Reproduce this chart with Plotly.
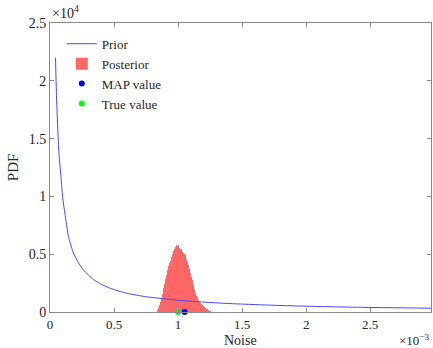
import numpy as np
import plotly.graph_objects as go

# ---- data (x in units of the Noise axis, pdf values) ----
prior_x = [0.043e-3, 0.05e-3, 0.06e-3, 0.07e-3, 0.088e-3, 0.1e-3, 0.117e-3, 0.143e-3,
           0.18e-3, 0.22e-3, 0.26e-3, 0.3e-3, 0.34e-3, 0.4e-3, 0.47e-3, 0.6e-3,
           0.75e-3, 0.86e-3, 1.0e-3, 1.17e-3, 1.4e-3, 1.7e-3, 2.0e-3, 2.4e-3, 2.975e-3]
prior_pdf = [22000, 19000, 16000, 13700, 11400, 9800, 8500, 6600,
             5200, 4300, 3650, 3200, 2800, 2400, 2050, 1620,
             1320, 1180, 1020, 880, 730, 600, 500, 410, 330]

posterior_first_center = 0.8385e-3
posterior_bin_width = 7.8e-6
posterior_pdf = [170, 350, 610, 870, 1210, 1560, 2080, 2420, 2860, 3200,
                 3630, 3980, 4240, 4410, 4760, 5020, 5280, 5450, 5620, 5800,
                 5710, 5800, 5540, 5360, 5450, 5190, 5100, 5020, 4930, 4590,
                 4330, 4070, 3720, 3370, 3030, 2770, 2340, 1990, 1640, 1380,
                 1210, 1040, 870, 780, 690, 610, 520, 430, 350, 260,
                 260, 170, 90, 90]
posterior_x = [posterior_first_center + i * posterior_bin_width for i in range(len(posterior_pdf))]

map_value = [1.051e-3]
true_value = [1.0e-3]

x_tickvals = [0, 0.5e-3, 1.0e-3, 1.5e-3, 2.0e-3, 2.5e-3]
x_ticktext = ["0", "0.5", "1", "1.5", "2", "2.5"]
y_tickvals = [0, 5000, 10000, 15000, 20000, 25000]
y_ticktext = ["0", "0.5", "1", "1.5", "2", "2.5"]

FONT = "Liberation Serif"
AXC = "#8a8a8a"
TXT = "#262626"

fig = go.Figure()
fig.add_trace(go.Scatter(x=prior_x, y=prior_pdf, mode="lines", name="Prior",
                         line=dict(color="rgb(70,70,255)", width=1, shape="spline", smoothing=0.6)))
fig.add_trace(go.Bar(x=posterior_x, y=posterior_pdf, width=posterior_bin_width, name="Posterior",
                     marker=dict(color="rgba(255,0,0,0.6)", line=dict(width=0))))
fig.add_trace(go.Scatter(x=map_value, y=[0], mode="markers", name="MAP value",
                         marker=dict(color="rgb(0,0,255)", size=6), cliponaxis=False))
fig.add_trace(go.Scatter(x=true_value, y=[0], mode="markers", name="True value",
                         marker=dict(color="rgb(0,255,0)", size=6), cliponaxis=False))

fig.update_layout(
    width=433, height=348,
    template="none",
    paper_bgcolor="white", plot_bgcolor="white",
    margin=dict(l=50, r=2, t=23, b=36),
    bargap=0,
    font=dict(family=FONT, size=13, color=TXT),
    showlegend=True,
    legend=dict(x=0.031, y=0.98, xanchor="left", yanchor="top",
                bgcolor="rgba(0,0,0,0)", borderwidth=0,
                font=dict(family=FONT, size=13, color=TXT),
                itemwidth=30, tracegroupgap=0),
    xaxis=dict(range=[0, 2.975e-3], tickvals=x_tickvals, ticktext=x_ticktext,
               showline=True, linecolor=AXC, linewidth=1, mirror="ticks",
               ticks="inside", ticklen=4, tickcolor=AXC, showgrid=False, zeroline=False,
               automargin=False, tickfont=dict(family=FONT, size=13, color=TXT)),
    yaxis=dict(range=[0, 25000], tickvals=y_tickvals, ticktext=y_ticktext,
               showline=True, linecolor=AXC, linewidth=1, mirror="ticks",
               ticks="inside", ticklen=4, tickcolor=AXC, showgrid=False, zeroline=False,
               automargin=False, tickfont=dict(family=FONT, size=14, color=TXT)),
    annotations=[
        dict(text="Noise", xref="paper", yref="paper", x=0.5, y=-0.097, xanchor="center",
             yanchor="middle", showarrow=False, font=dict(family=FONT, size=14, color=TXT)),
        dict(text="PDF", xref="paper", yref="paper", x=-0.098, y=0.5, xanchor="center",
             yanchor="middle", textangle=-90, showarrow=False,
             font=dict(family=FONT, size=15, color=TXT)),
        dict(text="×10<sup>4</sup>", xref="paper", yref="paper", x=0.0, y=1.0, xanchor="left",
             yanchor="bottom", showarrow=False, font=dict(family=FONT, size=14, color=TXT)),
        dict(text="×10<sup>−3</sup>", xref="paper", yref="paper", x=1.0, y=-0.097, xanchor="right",
             yanchor="middle", showarrow=False, font=dict(family=FONT, size=13, color=TXT)),
    ],
)

fig.write_html("out.html", config={"displayModeBar": False},
               post_script="document.body.style.margin='0px';")
